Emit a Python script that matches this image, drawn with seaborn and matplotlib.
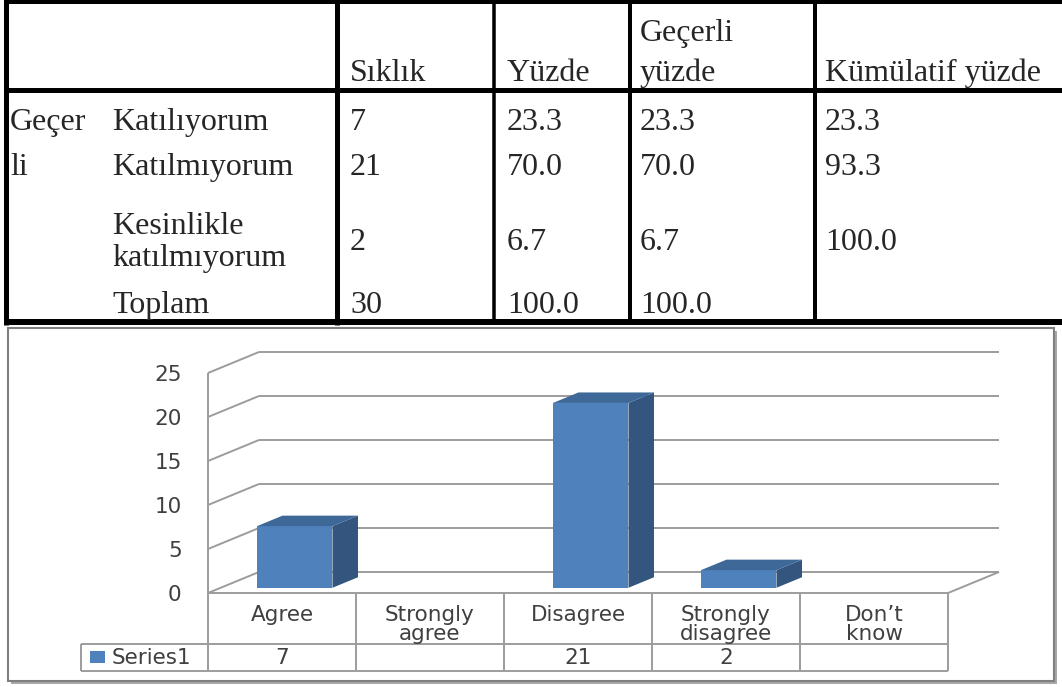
import numpy as np
import pandas as pd
import matplotlib
matplotlib.use("Agg")
import matplotlib.pyplot as plt
from matplotlib.patches import Rectangle, Polygon
import seaborn as sns

# frequency table (top)
header_cols = ["Sıklık", "Yüzde", "Geçerli\nyüzde", "Kümülatif yüzde"]
group_label = ["Geçer", "li"]
row_labels = ["Katılıyorum", "Katılmıyorum", "Kesinlikle\nkatılmıyorum", "Toplam"]
siklik = ["7", "21", "2", "30"]
yuzde = ["23.3", "70.0", "6.7", "100.0"]
gecerli_yuzde = ["23.3", "70.0", "6.7", "100.0"]
kumulatif_yuzde = ["23.3", "93.3", "100.0", ""]

# bar chart (bottom)
categories = ["Agree", "Strongly\nagree", "Disagree", "Strongly\ndisagree", "Don’t\nknow"]
counts = [7, np.nan, 21, 2, np.nan]
series_name = "Series1"
y_ticks = [0, 5, 10, 15, 20, 25]

W, H = 1062, 687
FRONT = "#4f81bd"
SIDE = "#34567e"
TOP = "#3e6898"
GRID = "#9c9c9c"
TXT = "#404040"

sns.set_style("white")
plt.rcParams["font.family"] = ["DejaVu Sans"]


def pt(p):
    # pixels -> points at dpi 100
    return p * 0.72


def add_px_axes(left, top, right, bottom):
    return fig.add_axes([left / W, 1 - bottom / H, (right - left) / W, (bottom - top) / H])


fig = plt.figure(figsize=(W / 100, H / 100), dpi=100)

# ---- canvas in pixel coords: table + chart frame
cv = fig.add_axes([0, 0, 1, 1])
cv.set_xlim(0, W)
cv.set_ylim(H, 0)
cv.axis("off")

serif = "Liberation Serif"
fs_tab = 23
for y, w in [(2, 4), (90, 5), (322, 6)]:
    cv.plot([4, W], [y, y], color="black", lw=pt(w), solid_capstyle="butt")
for x, w in [(6, 5), (337, 5), (494, 3.5), (630, 4), (815, 4)]:
    cv.plot([x, x], [0, 325], color="black", lw=pt(w), solid_capstyle="butt")

col_x = [350, 507, 640, 825]
row_base = [130, 175, 234, 313]
line_step = 32
for x, h in zip(col_x, header_cols):
    lines = h.split("\n")
    for k, s in enumerate(lines):
        cv.text(x, 81 - (len(lines) - 1 - k) * 40, s, family=serif, fontsize=fs_tab,
                va="baseline", ha="left")
for k, s in enumerate(group_label):
    cv.text(10, row_base[k], s, family=serif, fontsize=fs_tab, va="baseline")
for r, lab in enumerate(row_labels):
    lines = lab.split("\n")
    for k, s in enumerate(lines):
        cv.text(112, row_base[r] + k * line_step, s, family=serif, fontsize=fs_tab, va="baseline")
    yb = row_base[r] + (len(lines) - 1) * line_step / 2
    for x, col in zip(col_x, [siklik, yuzde, gecerli_yuzde, kumulatif_yuzde]):
        cv.text(x, yb, col[r], family=serif, fontsize=fs_tab, va="baseline")

# chart frame with shadow
cv.add_patch(Rectangle((11, 331), 1046, 353, fc="#a8a8a8", ec="none"))
cv.add_patch(Rectangle((8, 328), 1046, 353, fc="white", ec="#7f7f7f", lw=1.5))

# ---- 3D-look bar chart
FX0, FY0, FX1, FY1 = 208, 373, 948, 593   # front plane
DEPTH = (51, 21)                            # px shift to the back wall
D_FRONT, D_BACK = 0.25, 0.75               # bar depth range
ncat = len(categories)
px_per_cat = (FX1 - FX0) / ncat
px_per_unit = (FY1 - FY0) / max(y_ticks)
DX = DEPTH[0] / px_per_cat
DY = DEPTH[1] / px_per_unit
fs_ch = 15.5

ax = add_px_axes(FX0, FY0, FX1, FY1)
ax.set_xlim(-0.5, ncat - 0.5)
ax.set_ylim(0, max(y_ticks))
for s in ax.spines.values():
    s.set_visible(False)
ax.patch.set_alpha(0)
ax.set_xticks([])
ax.set_yticks(y_ticks)
ax.set_yticklabels([str(t) for t in y_ticks], fontsize=fs_ch, color=TXT)
ax.tick_params(axis="y", length=0, pad=19)

gl = dict(color=GRID, lw=1.4, clip_on=False, solid_capstyle="butt")
x0, x1 = -0.5, ncat - 0.5
for t in y_ticks:
    ax.plot([x0 + DX, x1 + DX], [t + DY, t + DY], **gl)
    ax.plot([x0, x0 + DX], [t, t + DY], **gl)
ax.plot([x0, x0], [0, max(y_ticks)], **gl)
ax.plot([x1, x1 + DX], [0, DY], **gl)

# data table under the floor
tr = ax.get_xaxis_transform()
def yf(py):
    return (FY1 - py) / (FY1 - FY0)
leg_x = x0 - (FX0 - 81) / px_per_cat
ax.plot([x0, x1], [yf(593), yf(593)], transform=tr, **gl)
ax.plot([leg_x, x1], [yf(644), yf(644)], transform=tr, **gl)
ax.plot([leg_x, x1], [yf(671), yf(671)], transform=tr, **gl)
ax.plot([leg_x, leg_x], [yf(644), yf(671)], transform=tr, **gl)
for i in range(ncat + 1):
    ax.plot([i - 0.5, i - 0.5], [yf(593), yf(671)], transform=tr, **gl)
for i, (c, v) in enumerate(zip(categories, counts)):
    ax.text(i, yf(605), c, transform=tr, ha="center", va="top", fontsize=fs_ch,
            color=TXT, linespacing=0.92)
    if not np.isnan(v):
        ax.text(i, yf(658), f"{v:.0f}", transform=tr, ha="center", va="center",
                fontsize=fs_ch, color=TXT)
cv.add_patch(Rectangle((90, 651), 15, 12, fc=FRONT, ec="none"))
cv.text(112, 658, series_name, va="center", fontsize=fs_ch, color=TXT)

# bars: front faces with seaborn on a plane shifted to the bar depth
axb = add_px_axes(FX0 + D_FRONT * DEPTH[0], FY0 - D_FRONT * DEPTH[1],
                  FX1 + D_FRONT * DEPTH[0], FY1 - D_FRONT * DEPTH[1])
df = pd.DataFrame({"category": categories, "count": counts}).dropna()
sns.barplot(data=df, x="category", y="count", order=categories, color=FRONT,
            saturation=1, width=0.51, errorbar=None, ax=axb)
axb.set_xlim(-0.5, ncat - 0.5)
axb.set_ylim(0, max(y_ticks))
axb.axis("off")
ddx = (D_BACK - D_FRONT) * DX
ddy = (D_BACK - D_FRONT) * DY
for p in list(axb.patches):
    bx, bw, bh = p.get_x(), p.get_width(), p.get_height()
    p.set_edgecolor("none")
    axb.add_patch(Polygon([(bx + bw, 0), (bx + bw + ddx, ddy), (bx + bw + ddx, bh + ddy),
                           (bx + bw, bh)], closed=True, fc=SIDE, ec="none", clip_on=False))
    axb.add_patch(Polygon([(bx, bh), (bx + ddx, bh + ddy), (bx + bw + ddx, bh + ddy),
                           (bx + bw, bh)], closed=True, fc=TOP, ec="none", clip_on=False))

fig.savefig("out.png", dpi=100)
